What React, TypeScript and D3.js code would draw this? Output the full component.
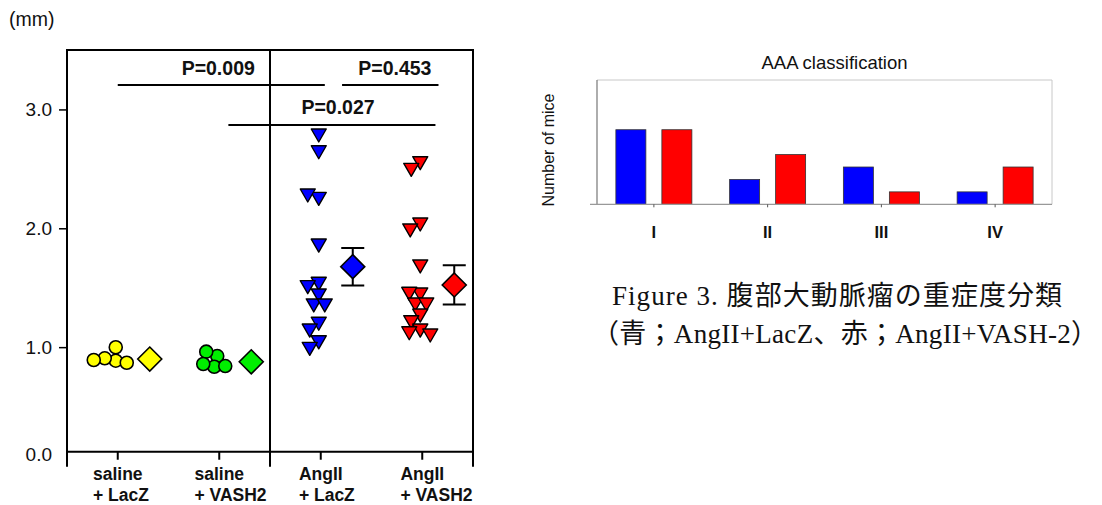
import React, { useEffect, useRef } from "react";
import * as d3 from "d3";

// ---- left panel: aortic diameter (mm) ----
const groupKeys = ["salineLacZ", "salineVASH2", "angLacZ", "angVASH2"];
const groupLines = [["saline", "+ LacZ"], ["saline", "+ VASH2"], ["AngII", "+ LacZ"], ["AngII", "+ VASH2"]];
const groupColors = ["#ffff00", "#00ee00", "#0000ff", "#ff0000"];
const groupShapes = ["circle", "circle", "triangle", "triangle"];

const salineLacZ = [0.886, 0.906, 0.999, 0.869, 0.892];
const salineVASH2 = [0.925, 0.962, 0.835, 0.841, 0.858];
const angLacZ = [2.785, 2.644, 2.252, 2.28, 1.859, 1.537, 1.509, 1.439, 1.355, 1.355, 1.201, 1.144, 1.045, 0.99];
const angVASH2 = [2.552, 2.496, 2.036, 1.986, 1.683, 1.447, 1.453, 1.363, 1.363, 1.27, 1.214, 1.144, 1.121, 1.102];
const groupValues = [salineLacZ, salineVASH2, angLacZ, angVASH2];

const groupMeans = [0.9, 0.877, 1.677, 1.523];
const groupSE = [0, 0, 0.158, 0.165];

const yTicks = [1, 2, 3];
const yMax = 3.5;
const xAxisAt = 0.12;

// brackets: positions in category units (0 = first group), heights in mm
const brackets = [
  { label: "P=0.009", from: 0, to: 2.04, at: 3.205, textAt: 0.99 },
  { label: "P=0.453", from: 2.21, to: 3.16, at: 3.205, textAt: 2.73 },
  { label: "P=0.027", from: 1.09, to: 3.13, at: 2.869, textAt: 2.17 },
];

// ---- right panel: AAA classification ----
const classes = ["I", "II", "III", "IV"];
const seriesNames = ["AngII+LacZ", "AngII+VASH-2"];
const seriesColors = ["#0000ff", "#ff0000"];
const lacZCounts = [6, 2, 3, 1];
const vash2Counts = [6, 4, 1, 3];
const countMax = 10;

const captionLine1 = "Figure 3.  腹部大動脈瘤の重症度分類";
const captionLine2 = "（青；AngII+LacZ、赤；AngII+VASH-2）";

const SANS = "'Liberation Sans', Arial, Helvetica, sans-serif";
const SERIF = "'Liberation Serif', 'Times New Roman', 'Noto Sans CJK JP', serif";

function swarm(vals, cx, y, gap) {
  var placed = [];
  vals.forEach(v => {
    var py = y(v);
    var off = 0;
    for (var k = 0; k < 200; k++) {
      var dx = (k % 2 === 0 ? 1 : -1) * Math.ceil(k / 2);
      var px = cx + dx;
      if (placed.every(p => (p.x - px) ** 2 + (p.y - py) ** 2 >= gap * gap)) { off = dx; break; }
    }
    placed.push({ x: cx + off, y: py });
  });
  return placed;
}

export default function App() {
  const svgRef = useRef(null);

  useEffect(() => {
    const svg = d3.select(svgRef.current);
    svg.selectAll("*").remove();

    /////////////////////////////////////////////////
    // Left panel
    /////////////////////////////////////////////////
    const g = svg.append("g");
    var x = d3.scaleBand().domain(groupKeys).range([67, 473]);
    var y = d3.scaleLinear().domain([0, yMax]).range([466, 50]);
    var bw = x.bandwidth();
    var cx = (i) => x(groupKeys[0]) + bw / 2 + i * x.step();
    var yBase = y(xAxisAt);
    var tickLen = 8;
    var frameBottom = yBase + 15;

    // frame
    var x0 = x.range()[0], x1 = x.range()[1];
    var divX = x(groupKeys[2]);
    g.append("path")
      .attr("d", `M${x0},${frameBottom}V${y(yMax)}H${x1}V${frameBottom}M${divX},${y(yMax)}V${frameBottom}M${x0},${yBase}H${x1}`)
      .attr("fill", "none").attr("stroke", "#000").attr("stroke-width", 2);

    // y axis
    var yAxis = g.append("g").attr("transform", `translate(${x0},0)`)
      .call(d3.axisLeft(y).tickValues(yTicks).tickFormat(d3.format(".1f")).tickSize(tickLen).tickPadding(7));
    yAxis.select(".domain").remove();
    yAxis.selectAll("line").attr("stroke", "#000").attr("stroke-width", 1.5);
    yAxis.selectAll("text").attr("font-family", SANS).attr("font-size", 19).attr("fill", "#111");
    g.append("text").attr("x", x0 - tickLen - 7).attr("y", yBase + 3).attr("dy", "0.32em")
      .attr("text-anchor", "end").attr("font-family", SANS).attr("font-size", 19).attr("fill", "#111")
      .text(d3.format(".1f")(0));

    g.append("text").attr("x", 9).attr("y", 26).attr("font-family", SANS).attr("font-size", 19.5).attr("fill", "#111").text("(mm)");

    // x ticks + labels
    groupKeys.forEach((k, i) => {
      g.append("line").attr("x1", cx(i)).attr("x2", cx(i)).attr("y1", yBase).attr("y2", yBase + tickLen)
        .attr("stroke", "#000").attr("stroke-width", 2);
      var t = g.append("text").attr("font-family", SANS).attr("font-size", 17.5).attr("font-weight", "bold").attr("fill", "#111");
      var first = t.append("tspan").attr("y", 480).text(groupLines[i][0]);
      var w = first.node().getComputedTextLength();
      var sx = cx(i) - w / 2;
      first.attr("x", sx);
      t.append("tspan").attr("x", sx).attr("y", 501).text(groupLines[i][1]);
    });

    // brackets
    brackets.forEach(b => {
      g.append("line").attr("x1", cx(b.from)).attr("x2", cx(b.to)).attr("y1", y(b.at)).attr("y2", y(b.at))
        .attr("stroke", "#000").attr("stroke-width", 2);
      g.append("text").attr("x", cx(b.textAt)).attr("y", y(b.at) - 10.5).attr("text-anchor", "middle")
        .attr("font-family", SANS).attr("font-size", 19.5).attr("font-weight", "bold").attr("fill", "#111")
        .text(b.label);
    });

    // points
    var triPath = "M-7.5,-6L7.5,-6L0,7Z";
    var diamond = "M0,-12L12,0L0,12L-12,0Z";
    groupValues.forEach((vals, i) => {
      var pts = swarm(vals, cx(i) - 2, y, 11);
      var sel = g.append("g").selectAll(".pt").data(pts).enter();
      if (groupShapes[i] === "circle") {
        sel.append("circle").attr("cx", d => d.x).attr("cy", d => d.y).attr("r", 6.5)
          .attr("fill", groupColors[i]).attr("stroke", "#000").attr("stroke-width", 1.6);
      } else {
        sel.append("path").attr("d", triPath).attr("transform", d => `translate(${d.x},${d.y})`)
          .attr("fill", groupColors[i]).attr("stroke", "#000").attr("stroke-width", 1.4).attr("stroke-linejoin", "round");
      }
      var mx = cx(i) + 32;
      var m = groupMeans[i], se = groupSE[i];
      if (se > 0) {
        g.append("path")
          .attr("d", `M${mx},${y(m - se)}V${y(m + se)}M${mx - 11.5},${y(m + se)}H${mx + 11.5}M${mx - 11.5},${y(m - se)}H${mx + 11.5}`)
          .attr("stroke", "#000").attr("stroke-width", 2).attr("fill", "none");
      }
      g.append("path").attr("d", diamond).attr("transform", `translate(${mx},${y(m)})`)
        .attr("fill", groupColors[i]).attr("stroke", "#000").attr("stroke-width", 1.6);
    });

    /////////////////////////////////////////////////
    // Right panel
    /////////////////////////////////////////////////
    const r = svg.append("g");
    var bx = d3.scaleBand().domain(classes).range([597, 1052]);
    var by = d3.scaleLinear().domain([0, countMax]).range([204.3, 80]);
    var sub = d3.scaleBand().domain(seriesNames).range([0, 76]).paddingInner(0.348);
    var rx0 = bx.range()[0], rx1 = bx.range()[1];

    r.append("line").attr("x1", rx0).attr("x2", rx1).attr("y1", by(countMax)).attr("y2", by(countMax)).attr("stroke", "#c8c8c8");
    r.append("line").attr("x1", rx1).attr("x2", rx1).attr("y1", by(countMax)).attr("y2", by(0)).attr("stroke", "#c8c8c8");
    r.append("line").attr("x1", rx0).attr("x2", rx0).attr("y1", by(countMax)).attr("y2", by(0)).attr("stroke", "#777").attr("stroke-width", 1.2);

    var counts = [lacZCounts, vash2Counts];
    seriesNames.forEach((s, si) => {
      r.append("g").selectAll("rect").data(counts[si]).enter().append("rect")
        .attr("x", (d, i) => bx(classes[i]) + bx.bandwidth() / 2 - 38 + sub(s))
        .attr("y", d => by(d))
        .attr("width", sub.bandwidth())
        .attr("height", d => by(0) - by(d))
        .attr("fill", seriesColors[si]).attr("stroke", "#333").attr("stroke-width", 0.8);
    });

    r.append("line").attr("x1", rx0 - 7).attr("x2", rx1).attr("y1", by(0)).attr("y2", by(0)).attr("stroke", "#999").attr("stroke-width", 1.2);
    classes.forEach(c => {
      var px = bx(c) + bx.bandwidth() / 2;
      r.append("line").attr("x1", px).attr("x2", px).attr("y1", by(0)).attr("y2", by(0) + 3).attr("stroke", "#555");
      r.append("text").attr("x", px).attr("y", 237.5).attr("text-anchor", "middle")
        .attr("font-family", SANS).attr("font-size", 16.5).attr("font-weight", "bold").attr("fill", "#111").text(c);
    });

    r.append("text").attr("x", (rx0 + rx1) / 2 + 10).attr("y", 69).attr("text-anchor", "middle")
      .attr("font-family", SANS).attr("font-size", 18.5).attr("fill", "#111").text("AAA classification");
    r.append("text").attr("transform", `translate(548,150) rotate(-90)`).attr("dy", "0.35em").attr("text-anchor", "middle")
      .attr("font-family", SANS).attr("font-size", 16).attr("fill", "#111").text("Number of mice");

    // caption
    svg.append("text").attr("x", 612).attr("y", 305).attr("font-family", SERIF).attr("font-size", 27)
      .attr("textLength", 450).attr("lengthAdjust", "spacing").attr("fill", "#111").text(captionLine1);
    svg.append("text").attr("x", 592).attr("y", 343).attr("font-family", SERIF).attr("font-size", 27)
      .attr("textLength", 506).attr("lengthAdjust", "spacing").attr("fill", "#111").text(captionLine2);
  }, []);

  return (
    <svg ref={svgRef} width={1102} height={505} style={{ position: "absolute", left: 0, top: 0, background: "#fff" }} />
  );
}
